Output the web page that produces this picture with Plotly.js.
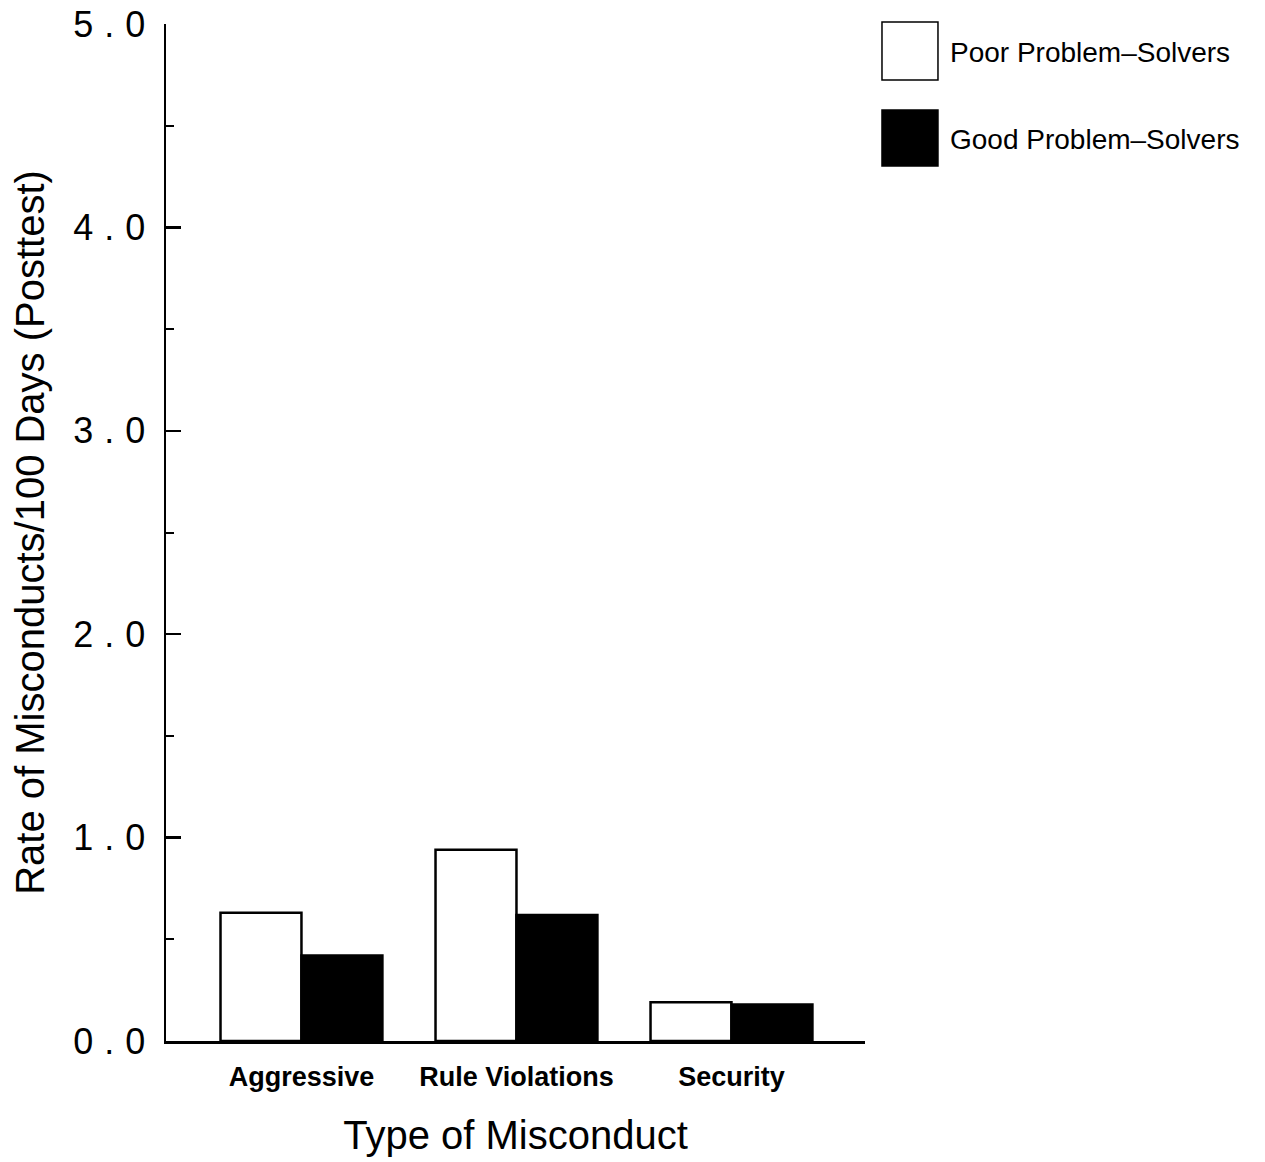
<!DOCTYPE html>
<html>
<head>
<meta charset="utf-8">
<script src="https://cdn.plot.ly/plotly-3.0.1.min.js"></script>
<style>
  html, body { margin: 0; padding: 0; background: #fff; }
  #chart { width: 1265px; height: 1162px; }
  /* widely spaced numerals on the value axis */
  #chart .ytick text { letter-spacing: 11px; }
</style>
</head>
<body>
<div id="chart"></div>
<script>
// Misconduct rates per 100 days at posttest, by problem-solving group
const categories = ["Aggressive", "Rule Violations", "Security"];
const poorSolvers = [0.63, 0.94, 0.19];
const goodSolvers = [0.42, 0.62, 0.18];
const seriesNames = ["Poor Problem\u2013Solvers", "Good Problem\u2013Solvers"];
const yTickValues = [0, 1, 2, 3, 4, 5];
const yTickLabels = ["0.0", "1.0", "2.0", "3.0", "4.0", "5.0"];

const sansFont = "Liberation Sans, Arial, sans-serif";

const traces = [
  {
    type: "bar", name: seriesNames[0], x: categories, y: poorSolvers,
    marker: { color: "#ffffff", line: { color: "#000000", width: 2.5 } },
    hoverinfo: "x+y"
  },
  {
    type: "bar", name: seriesNames[1], x: categories, y: goodSolvers,
    marker: { color: "#000000", line: { color: "#000000", width: 2.5 } },
    hoverinfo: "x+y"
  }
];

// Legend drawn as large swatches beside the plot
const legendShapes = [
  { type: "rect", xref: "paper", yref: "paper", x0: 1.0243, x1: 1.1044, y0: 0.945, y1: 1.002,
    line: { color: "#000", width: 1.5 }, fillcolor: "#fff" },
  { type: "rect", xref: "paper", yref: "paper", x0: 1.0243, x1: 1.1044, y0: 0.8604, y1: 0.9155,
    line: { color: "#000", width: 1.5 }, fillcolor: "#000" }
];
const legendLabels = [
  { xref: "paper", yref: "paper", x: 1.119, y: 0.972, xanchor: "left", yanchor: "middle",
    text: seriesNames[0], showarrow: false,
    font: { family: sansFont, size: 28, color: "#000" } },
  { xref: "paper", yref: "paper", x: 1.119, y: 0.886, xanchor: "left", yanchor: "middle",
    text: seriesNames[1], showarrow: false,
    font: { family: sansFont, size: 28, color: "#000" } }
];

const layout = {
  width: 1265, height: 1162,
  margin: { l: 166, r: 400, t: 24, b: 121 },
  paper_bgcolor: "#ffffff", plot_bgcolor: "#ffffff",
  showlegend: false,
  barmode: "group",
  bargap: 0.247,
  bargroupgap: 0,
  xaxis: {
    range: [-0.63, 2.621],
    showline: true, linecolor: "#000", linewidth: 3,
    ticks: "", showgrid: false, zeroline: false,
    ticklabelstandoff: 10,
    tickfont: { family: sansFont, size: 27, color: "#000", weight: "bold" },
    title: { text: "Type of Misconduct", standoff: 30,
      font: { family: sansFont, size: 40, color: "#000" } },
    automargin: false
  },
  yaxis: {
    range: [0, 5],
    showline: true, linecolor: "#000", linewidth: 2.5,
    showgrid: false, zeroline: false,
    tickmode: "array", tickvals: yTickValues, ticktext: yTickLabels,
    ticks: "inside", ticklen: 15, tickwidth: 2.5, tickcolor: "#000",
    minor: { dtick: 0.5, ticks: "inside", ticklen: 8, tickwidth: 2, tickcolor: "#000", showgrid: false },
    ticklabelstandoff: 0,
    tickfont: { family: sansFont, size: 36, color: "#000" },
    title: { text: "Rate of Misconducts/100 Days (Posttest)", standoff: 50,
      font: { family: sansFont, size: 40, color: "#000" } },
    automargin: false
  },
  shapes: legendShapes,
  annotations: legendLabels
};

Plotly.newPlot("chart", traces, layout, { displayModeBar: false, staticPlot: true });
</script>
</body>
</html>
